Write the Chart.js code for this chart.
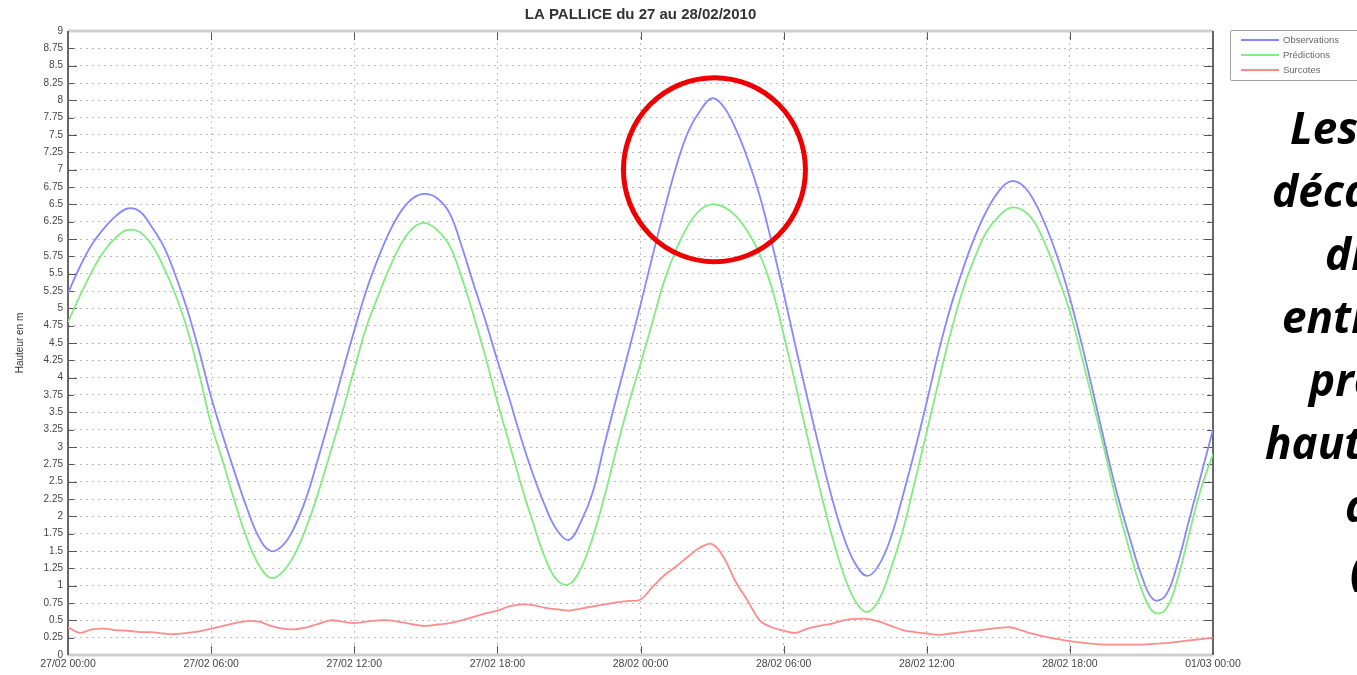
<!DOCTYPE html>
<html>
<head>
<meta charset="utf-8">
<title>LA PALLICE du 27 au 28/02/2010</title>
<script src="https://cdn.jsdelivr.net/npm/chart.js@4.4.1/dist/chart.umd.min.js"></script>
<style>
  body { margin: 0; background: #fff; }
  #wrap { position: relative; width: 1357px; height: 675px; overflow: hidden; background: #fff; }
  #tide { position: absolute; left: 0; top: 0; }
  #legend {
    position: absolute; left: 1230px; top: 30px; width: 140px; height: 49px;
    border: 1px solid #a0a0a0; border-radius: 2px; background: #fff;
    font: 9.5px "Liberation Sans", Arial, sans-serif; color: #666;
  }
  #legend .item { position: absolute; left: 10px; height: 10px; line-height: 10px; white-space: nowrap; }
  #legend .swatch { display: inline-block; width: 38px; height: 2px; vertical-align: middle; margin-right: 4px; }
  .side {
    position: absolute; white-space: nowrap; color: #000;
    font: italic 700 44px "Open Sans", "DejaVu Sans", sans-serif; line-height: 50px;
  }
</style>
</head>
<body>
<div id="wrap">
  <canvas id="tide" width="1357" height="675"></canvas>
  <div id="legend"></div>
</div>
<script>
// heures depuis le 27/02 00:00, un point toutes les 30 min
var stepHours = 0.5;

var xTickLabels = ["27/02 00:00", "27/02 06:00", "27/02 12:00", "27/02 18:00",
  "28/02 00:00", "28/02 06:00", "28/02 12:00", "28/02 18:00", "01/03 00:00"];

var seriesNames = ["Observations", "Prédictions", "Surcotes"];

// hauteurs observées (m)
var observations = [
  5.22, 5.60, 5.92, 6.15, 6.33, 6.44, 6.40, 6.18, 5.90, 5.48,
  4.98, 4.38, 3.72, 3.15, 2.62, 2.12, 1.70, 1.50, 1.58, 1.85,
  2.28, 2.85, 3.45, 4.07, 4.68, 5.25, 5.72, 6.12, 6.42, 6.60,
  6.65, 6.58, 6.37, 5.90, 5.35, 4.82, 4.25, 3.70, 3.12, 2.60,
  2.15, 1.80, 1.66, 1.92, 2.35, 3.05, 3.72, 4.38, 5.05, 5.75,
  6.42, 7.05, 7.55, 7.85, 8.03, 7.90, 7.58, 7.15, 6.62, 5.95,
  5.22, 4.45, 3.70, 2.98, 2.30, 1.72, 1.32, 1.14, 1.30, 1.70,
  2.30, 2.95, 3.65, 4.38, 5.02, 5.55, 6.02, 6.40, 6.68, 6.83,
  6.78, 6.55, 6.18, 5.72, 5.15, 4.48, 3.75, 3.00, 2.30, 1.70,
  1.15, 0.80, 0.85, 1.30, 1.95, 2.60, 3.25
];

// hauteurs prédites (m)
var predictions = [
  4.80, 5.18, 5.53, 5.82, 6.02, 6.13, 6.10, 5.92, 5.60, 5.20,
  4.70, 4.05, 3.33, 2.78, 2.20, 1.68, 1.30, 1.11, 1.20, 1.45,
  1.85, 2.35, 2.92, 3.50, 4.12, 4.72, 5.18, 5.60, 5.95, 6.17,
  6.23, 6.12, 5.90, 5.45, 4.90, 4.30, 3.65, 3.05, 2.45, 1.90,
  1.40, 1.08, 1.02, 1.25, 1.70, 2.30, 2.98, 3.62, 4.20, 4.80,
  5.40, 5.85, 6.20, 6.42, 6.50, 6.46, 6.33, 6.10, 5.78, 5.30,
  4.62, 3.90, 3.14, 2.42, 1.75, 1.18, 0.78, 0.62, 0.80, 1.25,
  1.80, 2.50, 3.22, 3.95, 4.64, 5.25, 5.72, 6.10, 6.32, 6.45,
  6.42, 6.25, 5.90, 5.45, 4.95, 4.30, 3.60, 2.88, 2.15, 1.51,
  0.95, 0.62, 0.65, 1.08, 1.75, 2.40, 2.90
];

// surcotes (m)
var surcotes = [
  0.40, 0.32, 0.37, 0.38, 0.36, 0.35, 0.33, 0.33, 0.31, 0.30,
  0.32, 0.34, 0.38, 0.42, 0.46, 0.49, 0.48, 0.42, 0.38, 0.37,
  0.40, 0.45, 0.50, 0.48, 0.46, 0.48, 0.50, 0.50, 0.47, 0.44,
  0.42, 0.44, 0.46, 0.50, 0.55, 0.60, 0.64, 0.70, 0.73, 0.72,
  0.68, 0.66, 0.64, 0.67, 0.70, 0.73, 0.76, 0.78, 0.80, 0.98,
  1.15, 1.28, 1.42, 1.55, 1.60, 1.40, 1.05, 0.78, 0.50, 0.40,
  0.35, 0.32, 0.38, 0.42, 0.45, 0.50, 0.52, 0.52, 0.48, 0.42,
  0.36, 0.33, 0.31, 0.29, 0.31, 0.33, 0.35, 0.37, 0.39, 0.40,
  0.35, 0.30, 0.26, 0.23, 0.20, 0.18, 0.16, 0.15, 0.15, 0.15,
  0.15, 0.16, 0.17, 0.19, 0.21, 0.23, 0.25
];

var sideLines = ["Les", "décalages", "différents", "entre", "prédictions", "hauteurs", "d'eau", "(surcotes)"];

var colors = ["rgb(135,135,255)", "rgb(130,235,130)", "rgb(255,140,140)"];

function toPoints(values) {
  return values.map(function(v, i) { return { x: i * stepHours, y: v }; });
}

// titre, titre de l'axe, graduations intérieures, cadre et cercle rouge
var decorPlugin = {
  id: "decor",
  beforeDatasetsDraw: function(chart) {
    var ctx = chart.ctx, a = chart.chartArea;
    var xs = chart.scales.x, ys = chart.scales.y;
    ctx.save();
    ctx.strokeStyle = "#555";
    ctx.lineWidth = 1;
    ys.ticks.forEach(function(t, i) {
      var py = Math.round(ys.getPixelForValue(t.value)) + 0.5;
      var len = (i % 2 === 0) ? 9 : 6;
      ctx.beginPath();
      ctx.moveTo(a.left, py); ctx.lineTo(a.left + len, py);
      ctx.moveTo(a.right, py); ctx.lineTo(a.right - len, py);
      ctx.stroke();
    });
    xs.ticks.forEach(function(t) {
      var px = Math.round(xs.getPixelForValue(t.value)) + 0.5;
      ctx.beginPath();
      ctx.moveTo(px, a.bottom); ctx.lineTo(px, a.bottom - 9);
      ctx.moveTo(px, a.top); ctx.lineTo(px, a.top + 9);
      ctx.stroke();
    });
    // cadre
    ctx.strokeStyle = "#cfcfcf";
    ctx.lineWidth = 3;
    ctx.beginPath();
    ctx.moveTo(a.left, a.top); ctx.lineTo(a.right, a.top);
    ctx.moveTo(a.left, a.bottom); ctx.lineTo(a.right, a.bottom);
    ctx.stroke();
    ctx.strokeStyle = "#666";
    ctx.lineWidth = 2;
    ctx.beginPath();
    ctx.moveTo(a.left, a.top); ctx.lineTo(a.left, a.bottom);
    ctx.moveTo(a.right, a.top); ctx.lineTo(a.right, a.bottom);
    ctx.stroke();
    ctx.restore();
  },
  afterDraw: function(chart) {
    var ctx = chart.ctx, a = chart.chartArea;
    var xs = chart.scales.x, ys = chart.scales.y;
    ctx.save();
    ctx.fillStyle = "#333";
    ctx.font = "bold 15px 'Liberation Sans', Arial, sans-serif";
    ctx.textAlign = "center";
    ctx.textBaseline = "middle";
    ctx.fillText("LA PALLICE du 27 au 28/02/2010", (a.left + a.right) / 2, 15);

    ctx.translate(20, (a.top + a.bottom) / 2);
    ctx.rotate(-Math.PI / 2);
    ctx.font = "10px 'Liberation Sans', Arial, sans-serif";
    ctx.fillText("Hauteur en m", 0, 0);
    ctx.restore();

    // cercle autour du pic observé
    ctx.save();
    ctx.strokeStyle = "#ee0000";
    ctx.lineWidth = 5;
    ctx.beginPath();
    ctx.ellipse(xs.getPixelForValue(27.1), ys.getPixelForValue(7.0), 91, 92, 0, 0, Math.PI * 2);
    ctx.stroke();
    ctx.restore();
  }
};

var chart = new Chart(document.getElementById("tide"), {
  type: "line",
  data: {
    datasets: [observations, predictions, surcotes].map(function(vals, i) {
      return {
        label: seriesNames[i],
        data: toPoints(vals),
        borderColor: colors[i],
        borderWidth: 1.8,
        pointRadius: 0,
        tension: 0.4,
        fill: false
      };
    })
  },
  options: {
    responsive: false,
    animation: false,
    layout: { padding: { left: 0, right: 144, top: 31, bottom: 0 } },
    plugins: { legend: { display: false }, title: { display: false }, tooltip: { enabled: false } },
    scales: {
      x: {
        type: "linear", min: 0, max: 48,
        afterFit: function(s) { s.height = 20; },
        ticks: {
          stepSize: 6, autoSkip: false, maxRotation: 0, padding: 3,
          color: "#444", font: { family: "'Liberation Sans', Arial", size: 10.5 },
          callback: function(v) { return xTickLabels[v / 6]; }
        },
        grid: { color: "#bdbdbd", drawTicks: false },
        border: { display: false, dash: [2, 4] }
      },
      y: {
        min: 0, max: 9,
        afterFit: function(s) { s.width = 68; },
        ticks: {
          stepSize: 0.25, autoSkip: false, maxTicksLimit: 40, padding: 5,
          color: "#444", font: { family: "'Liberation Sans', Arial", size: 10 },
          callback: function(v) { return String(v); }
        },
        grid: { color: "#bdbdbd", drawTicks: false },
        border: { display: false, dash: [2, 4] }
      }
    }
  },
  plugins: [decorPlugin]
});

// légende
var legend = document.getElementById("legend");
seriesNames.forEach(function(name, i) {
  var it = document.createElement("div");
  it.className = "item";
  it.style.top = (4 + i * 15) + "px";
  it.innerHTML = '<span class="swatch" style="background:' + colors[i] + '"></span>' + name;
  legend.appendChild(it);
});

// texte de la diapositive, coupé par le bord droit
var sideLeft = [1290, 1272, 1325, 1282, 1309, 1265, 1345, 1350];
var wrap = document.getElementById("wrap");
sideLines.forEach(function(txt, i) {
  var d = document.createElement("div");
  d.className = "side";
  d.style.left = sideLeft[i] + "px";
  d.style.top = (102 + i * 63) + "px";
  d.textContent = txt;
  wrap.appendChild(d);
});
</script>
</body>
</html>
